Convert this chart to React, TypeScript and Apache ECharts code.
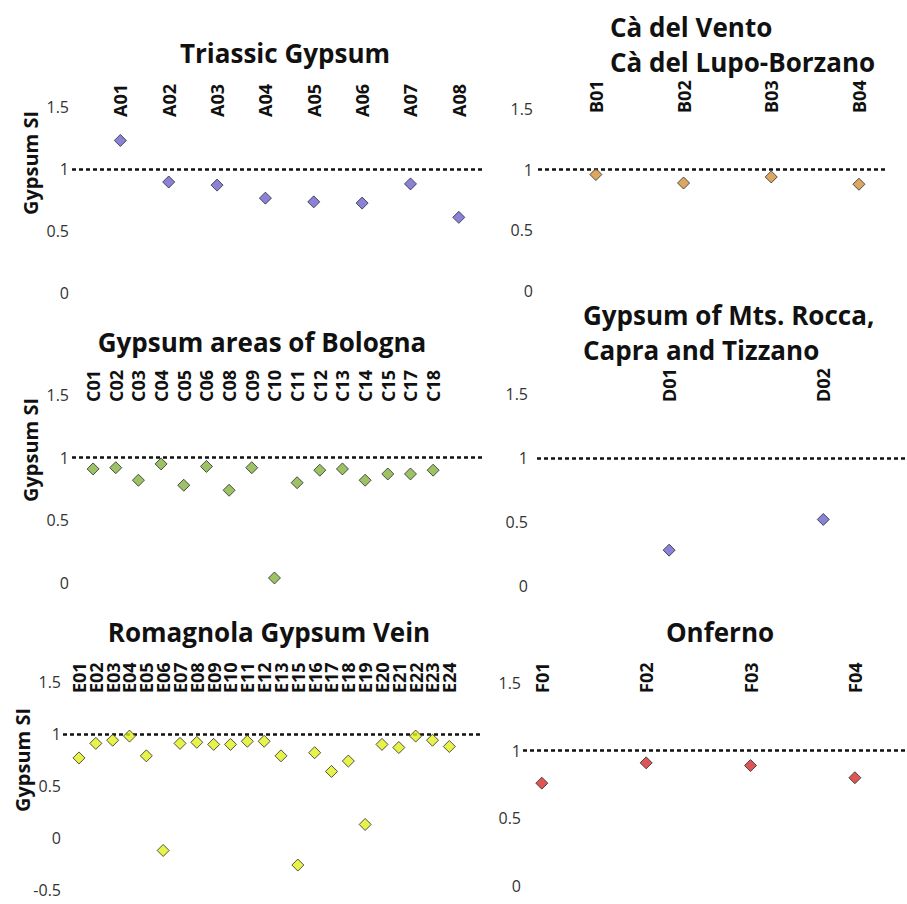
import React, { useEffect, useRef } from "react";
import * as echarts from "echarts";

// ---------- data ----------
const titleA = "Triassic Gypsum";
const catsA = ["A01", "A02", "A03", "A04", "A05", "A06", "A07", "A08"];
const valsA = [1.23, 0.895, 0.87, 0.765, 0.735, 0.725, 0.88, 0.61];

const titleB = "Cà del Vento\nCà del Lupo-Borzano";
const catsB = ["B01", "B02", "B03", "B04"];
const valsB = [0.96, 0.89, 0.94, 0.88];

const titleC = "Gypsum areas of Bologna";
const catsC = ["C01", "C02", "C03", "C04", "C05", "C06", "C08", "C09", "C10", "C11", "C12", "C13", "C14", "C15", "C17", "C18"];
const valsC = [0.91, 0.92, 0.82, 0.95, 0.78, 0.93, 0.74, 0.92, 0.04, 0.8, 0.9, 0.91, 0.82, 0.87, 0.87, 0.9];

const titleD = "Gypsum of Mts. Rocca,\nCapra and Tizzano";
const catsD = ["D01", "D02"];
const valsD = [0.28, 0.52];

const titleE = "Romagnola Gypsum Vein";
const catsE = ["E01", "E02", "E03", "E04", "E05", "E06", "E07", "E08", "E09", "E10", "E11", "E12", "E13", "E15", "E16", "E17", "E18", "E19", "E20", "E21", "E22", "E23", "E24"];
const valsE = [0.77, 0.91, 0.94, 0.98, 0.79, -0.12, 0.91, 0.92, 0.9, 0.9, 0.93, 0.93, 0.79, -0.26, 0.82, 0.64, 0.74, 0.13, 0.9, 0.87, 0.98, 0.94, 0.88];

const titleF = "Onferno";
const catsF = ["F01", "F02", "F03", "F04"];
const valsF = [0.76, 0.91, 0.89, 0.8];

const yName = "Gypsum SI";
const threshold = 1;

// ---------- layout / style ----------
const FONT = "'Open Sans', 'Noto Sans', sans-serif";

type Panel = {
  title: string;
  cats: string[];
  vals: number[];
  color: string;
  grid: { left: number; top: number; width: number; height: number };
  xMin: number;
  xMax: number;
  yMin: number;
  yMax: number;
  xLabelMargin: number;
  yLabelMargin: number;
  titlePos: { x: number; y: number; align: "center" | "left" };
  yNamePos?: { x: number; y: number };
};

const panels: Panel[] = [
  {
    title: titleA, cats: catsA, vals: valsA, color: "#6d62cf",
    grid: { left: 72, top: 107, width: 411, height: 186 },
    xMin: -1, xMax: 7.5, yMin: 0, yMax: 1.5, xLabelMargin: -10, yLabelMargin: 3,
    titlePos: { x: 285, y: 53, align: "center" }, yNamePos: { x: 30, y: 163 },
  },
  {
    title: titleB, cats: catsB, vals: valsB, color: "#d4913a",
    grid: { left: 538, top: 109, width: 349, height: 182 },
    xMin: -0.66, xMax: 3.32, yMin: 0, yMax: 1.5, xLabelMargin: -4, yLabelMargin: 5,
    titlePos: { x: 610, y: 44, align: "left" },
  },
  {
    title: titleC, cats: catsC, vals: valsC, color: "#84b13f",
    grid: { left: 72, top: 395, width: 411, height: 188 },
    xMin: -0.93, xMax: 17.2, yMin: 0, yMax: 1.5, xLabelMargin: -7, yLabelMargin: 3,
    titlePos: { x: 262, y: 342, align: "center" }, yNamePos: { x: 30, y: 450 },
  },
  {
    title: titleD, cats: catsD, vals: valsD, color: "#6d62cf",
    grid: { left: 537, top: 394, width: 368, height: 192 },
    xMin: -0.857, xMax: 1.53, yMin: 0, yMax: 1.5, xLabelMargin: -8, yLabelMargin: 9,
    titlePos: { x: 583, y: 332, align: "left" },
  },
  {
    title: titleE, cats: catsE, vals: valsE, color: "#e1f01c",
    grid: { left: 63, top: 682, width: 420, height: 208 },
    xMin: -0.95, xMax: 24.0, yMin: -0.5, yMax: 1.5, xLabelMargin: -11, yLabelMargin: 2,
    titlePos: { x: 269, y: 632, align: "center" }, yNamePos: { x: 22, y: 760 },
  },
  {
    title: titleF, cats: catsF, vals: valsF, color: "#d42a2a",
    grid: { left: 523, top: 683, width: 382, height: 203 },
    xMin: -0.18, xMax: 3.48, yMin: 0, yMax: 1.5, xLabelMargin: -10, yLabelMargin: 2,
    titlePos: { x: 720, y: 632, align: "center" },
  },
];

function buildOption() {
  const grids: any[] = [];
  const xAxes: any[] = [];
  const yAxes: any[] = [];
  const series: any[] = [];
  const graphics: any[] = [];

  panels.forEach((p, i) => {
    grids.push({ ...p.grid, containLabel: false, outerBoundsMode: "none" });
    // every category index, plus two empty sentinels at the axis ends so the
    // min/max label overlap checks never hide a real label
    const labelValues = [p.xMin, ...p.cats.map((_, k) => k), p.xMax];
    xAxes.push({
      gridIndex: i,
      type: "value",
      position: "top",
      min: p.xMin,
      max: p.xMax,
      axisLine: { show: false, onZero: false },
      axisTick: { show: false },
      splitLine: { show: false },
      axisLabel: {
        customValues: labelValues,
        formatter: (v: number) => (Number.isInteger(v) && p.cats[v] !== undefined ? p.cats[v] : ""),
        rotate: -90,
        margin: p.xLabelMargin,
        fontSize: 18,
        fontWeight: "bold",
        fontFamily: FONT,
        color: "#111",
        hideOverlap: false,
        showMinLabel: false,
        showMaxLabel: false,
      },
    });
    yAxes.push({
      gridIndex: i,
      type: "value",
      position: "left",
      min: p.yMin,
      max: p.yMax,
      interval: 0.5,
      axisLine: { show: false, onZero: false },
      axisTick: { show: false },
      splitLine: { show: false },
      axisLabel: {
        margin: p.yLabelMargin,
        fontSize: 16,
        fontFamily: FONT,
        color: "#333",
        align: "right",
        verticalAlign: "middle",
      },
    });
    series.push({
      type: "scatter",
      xAxisIndex: i,
      yAxisIndex: i,
      data: p.vals.map((v, k) => [k, v]),
      symbol: "diamond",
      symbolSize: 12,
      itemStyle: { color: p.color, borderColor: "#2a2a2a", borderWidth: 1 },
      z: 5,
      markLine: {
        silent: true,
        symbol: "none",
        label: { show: false },
        lineStyle: { color: "#111", width: 2.5, type: [4, 3] },
        data: [{ yAxis: threshold }],
        z: 2,
      },
    });
    graphics.push({
      type: "text",
      x: p.titlePos.x,
      y: p.titlePos.y,
      style: {
        text: p.title,
        fontSize: 26,
        fontWeight: "bold",
        fontFamily: FONT,
        fill: "#111",
        align: p.titlePos.align,
        verticalAlign: "middle",
        lineHeight: 35,
      },
    });
    if (p.yNamePos) {
      graphics.push({
        type: "text",
        x: p.yNamePos.x,
        y: p.yNamePos.y,
        rotation: Math.PI / 2,
        style: {
          text: yName,
          fontSize: 20,
          fontWeight: "bold",
          fontFamily: FONT,
          fill: "#111",
          align: "center",
          verticalAlign: "middle",
        },
      });
    }
  });

  return {
    animation: false,
    backgroundColor: "#ffffff",
    grid: grids,
    xAxis: xAxes,
    yAxis: yAxes,
    series,
    graphic: graphics,
  };
}

export default function App() {
  const ref = useRef<HTMLDivElement>(null);
  useEffect(() => {
    if (!ref.current) return;
    const chart = echarts.init(ref.current, undefined, { renderer: "svg" });
    chart.setOption(buildOption() as any);
    return () => chart.dispose();
  }, []);
  return (
    <div
      ref={ref}
      style={{ position: "fixed", left: 0, top: 0, width: 907, height: 904, background: "#fff" }}
    />
  );
}
